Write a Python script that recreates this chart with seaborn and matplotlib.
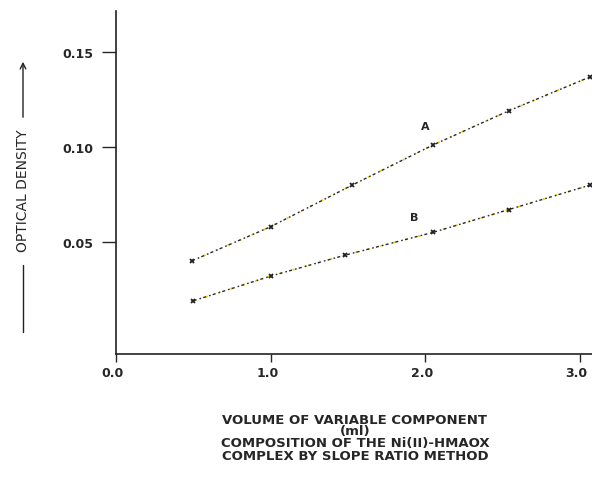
import matplotlib
matplotlib.use("Agg")
import matplotlib.pyplot as plt
import matplotlib.transforms as mtransforms
import seaborn as sns
import pandas as pd

# data
vol_a = [0.49, 1.0, 1.53, 2.05, 2.54, 3.07]
od_a = [0.040, 0.058, 0.080, 0.101, 0.119, 0.137]
vol_b = [0.50, 1.0, 1.48, 2.05, 2.54, 3.07]
od_b = [0.019, 0.032, 0.043, 0.055, 0.067, 0.080]
xticks = [0.0, 1.0, 2.0, 3.0]
xtick_labels = ["0.0", "1.0", "2.0", "3.0"]
yticks = [0.05, 0.10, 0.15]
ytick_labels = ["0.05", "0.10", "0.15"]

df = pd.concat([
    pd.DataFrame({"vol": vol_a, "od": od_a, "curve": "A"}),
    pd.DataFrame({"vol": vol_b, "od": od_b, "curve": "B"}),
])

sns.set_style("ticks")
plt.rcParams['font.family'] = ['DejaVu Sans']

fig = plt.figure(figsize=(5.92, 4.81), dpi=100)
ax = fig.add_axes([116 / 592, 1 - 355 / 481, 1 - 116 / 592, (355 - 12) / 481])

# sparse yellow dots underneath, dark dotted line on top
sns.lineplot(data=df, x="vol", y="od", units="curve", estimator=None,
             color="#f0d000", linestyle=(0, (1.2, 6)), linewidth=1.3, ax=ax, legend=False)
sns.lineplot(data=df, x="vol", y="od", units="curve", estimator=None,
             color="#2a2a2a", linestyle=(2.5, (1.2, 1.6, 2.2, 2.2)), linewidth=1.0,
             marker="x", markersize=3.5, markeredgewidth=1.3, markeredgecolor="#222222",
             ax=ax, legend=False)

ax.set_xlim(0, 3.08)
ax.set_ylim(-0.009, 0.1716)
ax.set_xticks(xticks)
ax.set_xticklabels(xtick_labels, fontsize=9, fontweight="bold")
ax.set_yticks(yticks)
ax.set_yticklabels(ytick_labels, fontsize=9, fontweight="bold")
ax.tick_params(axis="x", length=6, width=1, pad=3)
ax.tick_params(axis="y", length=10, width=1, pad=6)
# the x labels sit a little left of their ticks in the original
shift = mtransforms.ScaledTranslation(-3 / 100, 0, fig.dpi_scale_trans)
for lab in ax.get_xticklabels():
    lab.set_transform(lab.get_transform() + shift)
ax.set_xlabel("")
ax.set_ylabel("")
for s in ["left", "bottom"]:
    ax.spines[s].set_linewidth(1.2)
    ax.spines[s].set_color("#222222")
sns.despine(ax=ax)

ax.text(2.0, 0.111, "A", fontsize=8, fontweight="bold", ha="center", va="center")
ax.text(1.93, 0.063, "B", fontsize=8, fontweight="bold", ha="center", va="center")

# y axis caption with leader line and arrow
fig.text(23 / 592, 1 - 191 / 481, "OPTICAL DENSITY", rotation=90, fontsize=10,
         ha="center", va="center")
fig.add_artist(plt.Line2D([23 / 592, 23 / 592], [1 - 333 / 481, 1 - 266 / 481],
                          color="#222222", linewidth=1))
ax.annotate("", xy=(23 / 592, 1 - 60 / 481), xytext=(23 / 592, 1 - 121 / 481),
            xycoords="figure fraction", textcoords="figure fraction",
            arrowprops=dict(arrowstyle="->", color="#222222", lw=1))

caption = ("VOLUME OF VARIABLE COMPONENT\n(ml)\n"
           "COMPOSITION OF THE Ni(II)-HMAOX\n"
           "COMPLEX BY SLOPE RATIO METHOD")
fig.text(355 / 592, 1 - 438 / 481, caption, fontsize=9.5, fontweight="bold",
         ha="center", va="center", linespacing=0.9)

fig.savefig("out.png", dpi=100)
